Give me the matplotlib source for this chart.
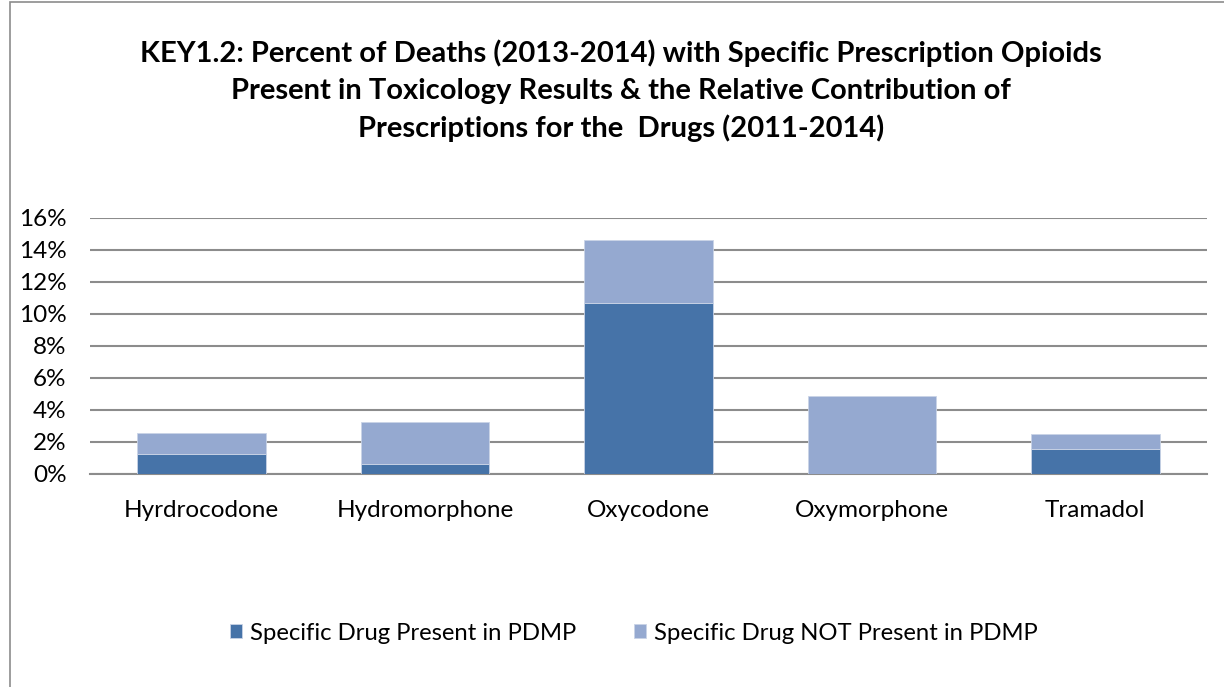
import matplotlib
matplotlib.use("Agg")
import matplotlib.pyplot as plt
from matplotlib.patches import Rectangle
from matplotlib.ticker import FuncFormatter, MultipleLocator

categories = ["Hyrdrocodone", "Hydromorphone", "Oxycodone", "Oxymorphone", "Tramadol"]
present_in_pdmp = [1.23, 0.63, 10.68, 0.0, 1.57]
not_present_in_pdmp = [1.34, 2.61, 3.92, 4.87, 0.90]
series_names = ["Specific Drug Present in PDMP", "Specific Drug NOT Present in PDMP"]
title = ("KEY1.2: Percent of Deaths (2013-2014) with Specific Prescription Opioids\n"
         "Present in Toxicology Results & the Relative Contribution of\n"
         "Prescriptions for the  Drugs (2011-2014)")

plt.rcParams['font.family'] = ['Lato', 'DejaVu Sans']

W, H = 1224, 687
fig = plt.figure(figsize=(W / 100, H / 100), dpi=100)
fig.patches.append(Rectangle((10 / W, -0.1), 1.2, 1 - 2 / H + 0.1, transform=fig.transFigure,
                             fill=False, edgecolor="#8c8c8c", linewidth=1.2))

ax = fig.add_axes([90 / W, 1 - 474 / H, (1207 - 90) / W, (474 - 218) / H])
x = list(range(len(categories)))
dark = "#4673A8"
light = "#95A9D0"
ax.bar(x, present_in_pdmp, width=0.575, color=dark, edgecolor="#c9d3e6", linewidth=0.6,
       label=series_names[0], zorder=3)
ax.bar(x, not_present_in_pdmp, width=0.575, bottom=present_in_pdmp, color=light,
       edgecolor="#c9d3e6", linewidth=0.6, label=series_names[1], zorder=3)

ax.set_xlim(-0.5, len(categories) - 0.5)
ax.set_ylim(0, 16)
ax.yaxis.set_major_locator(MultipleLocator(2))
ax.yaxis.set_major_formatter(FuncFormatter(lambda v, p: f"{v:.0f}%"))
ax.grid(axis="y", color="#8c8c8c", linewidth=1.5, zorder=0)
for s in ["top", "right", "left"]:
    ax.spines[s].set_visible(False)
ax.spines["bottom"].set_color("#8c8c8c")
ax.spines["bottom"].set_linewidth(1.5)
ax.set_xticks(x)
ax.set_xticklabels(categories)
ax.tick_params(axis="both", length=0, labelsize=17.5, colors="black")
ax.tick_params(axis="x", pad=18.5)
ax.tick_params(axis="y", pad=17)

fig.text(621 / W, 1 - 91 / H, title, ha="center", va="center", fontsize=21,
         fontweight="bold", linespacing=1.5)

fig.legend(loc="center", bbox_to_anchor=(634 / W, 1 - 633 / H), ncol=2, frameon=False,
           fontsize=17.2, handlelength=0.5, handleheight=0.5, handletextpad=0.35,
           columnspacing=2.4)

fig.savefig("out.png", dpi=100)
